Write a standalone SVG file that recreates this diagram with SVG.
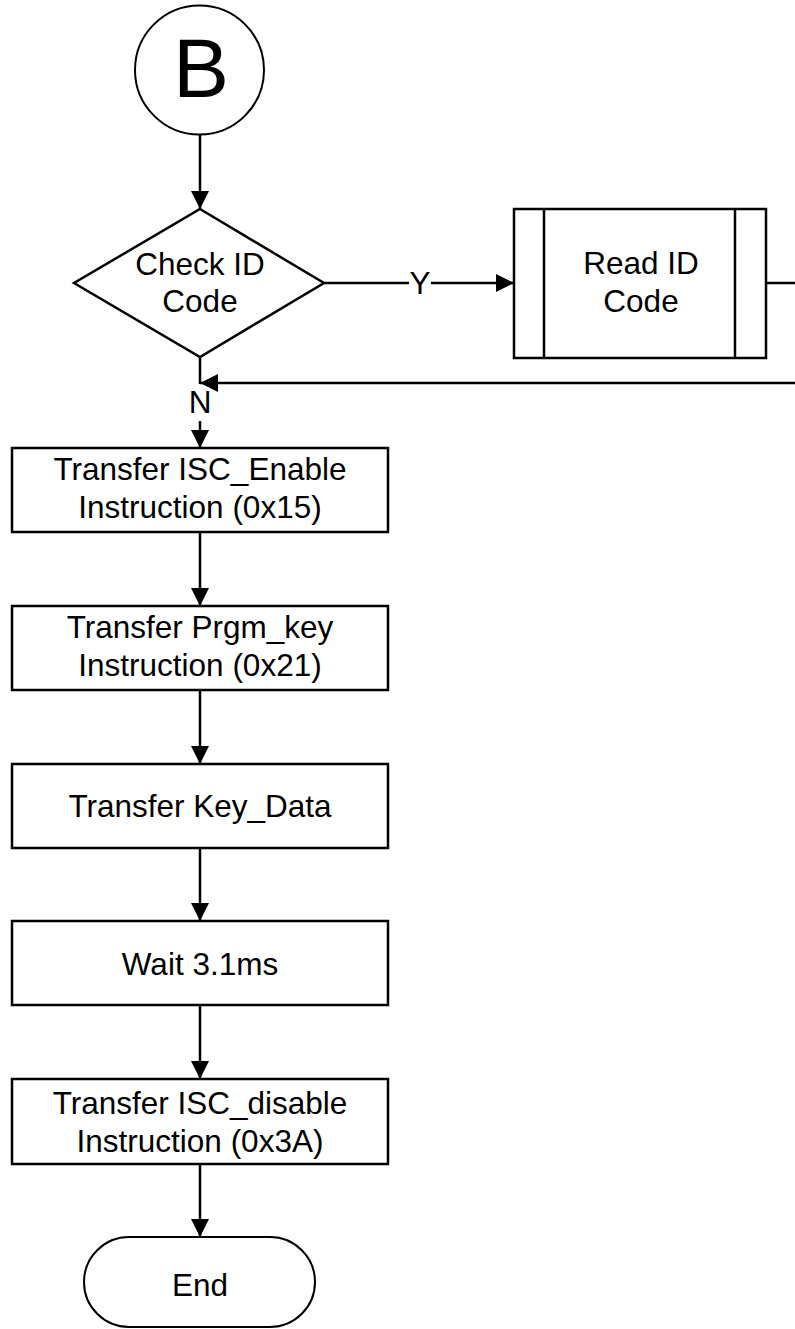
<svg xmlns="http://www.w3.org/2000/svg" width="795" height="1329" viewBox="0 0 795 1329">
<style>
.s{fill:#fff;stroke:#000;stroke-width:2.5}
.t{font-family:"Liberation Sans",Arial,sans-serif;font-size:31.5px;fill:#000;text-anchor:middle}
.c{fill:none;stroke:#000;stroke-width:2.5}
</style>
<defs>
<marker id="ah" viewBox="0 0 18 18" refX="18" refY="9" markerWidth="18" markerHeight="18" markerUnits="userSpaceOnUse" orient="auto">
<path d="M0,0 L18,9 L0,18 Z" fill="#000"/>
</marker>
</defs>
<rect width="795" height="1329" fill="#fff"/>
<g id="connectors">
<line class="c" x1="200" y1="134" x2="200" y2="209" marker-end="url(#ah)"/>
<polyline class="c" points="324,283 409,283"/>
<line class="c" x1="431" y1="283" x2="514" y2="283" marker-end="url(#ah)"/>
<text class="t" x="420" y="294">Y</text>
<line class="c" x1="766" y1="283" x2="795" y2="283"/>
<line class="c" x1="795" y1="383" x2="200" y2="383" marker-end="url(#ah)"/>
<line class="c" x1="200" y1="357" x2="200" y2="384"/>
<text class="t" x="200" y="413">N</text>
<line class="c" x1="200" y1="421" x2="200" y2="448" marker-end="url(#ah)"/>
<line class="c" x1="200" y1="532" x2="200" y2="606" marker-end="url(#ah)"/>
<line class="c" x1="200" y1="690" x2="200" y2="764" marker-end="url(#ah)"/>
<line class="c" x1="200" y1="848" x2="200" y2="921" marker-end="url(#ah)"/>
<line class="c" x1="200" y1="1005" x2="200" y2="1079" marker-end="url(#ah)"/>
<line class="c" x1="200" y1="1164" x2="200" y2="1237" marker-end="url(#ah)"/>
</g>
<g id="start">
<circle cx="199.5" cy="70" r="64.5" fill="#fff" stroke="#000" stroke-width="2"/>
<text class="t" x="201" y="97" style="font-size:84px">B</text>
</g>
<g id="check">
<polygon class="s" points="200,209 324,283 200,357 74,283"/>
<text class="t" x="200" y="275">Check ID</text>
<text class="t" x="200" y="312">Code</text>
</g>
<g id="readid">
<rect class="s" x="514" y="209" width="252" height="149"/>
<line class="c" x1="544" y1="209" x2="544" y2="358"/>
<line class="c" x1="735" y1="209" x2="735" y2="358"/>
<text class="t" x="641" y="274">Read ID</text>
<text class="t" x="641" y="312">Code</text>
</g>
<g id="enable">
<rect class="s" x="12" y="448" width="376" height="84"/>
<text class="t" x="200" y="480">Transfer ISC_Enable</text>
<text class="t" x="200" y="518">Instruction (0x15)</text>
</g>
<g id="prgm">
<rect class="s" x="12" y="606" width="376" height="84"/>
<text class="t" x="200" y="638">Transfer Prgm_key</text>
<text class="t" x="200" y="676">Instruction (0x21)</text>
</g>
<g id="keydata">
<rect class="s" x="12" y="764" width="376" height="84"/>
<text class="t" x="200" y="817">Transfer Key_Data</text>
</g>
<g id="wait">
<rect class="s" x="12" y="921" width="376" height="84"/>
<text class="t" x="200" y="975">Wait 3.1ms</text>
</g>
<g id="disable">
<rect class="s" x="12" y="1079" width="376" height="85"/>
<text class="t" x="200" y="1114">Transfer ISC_disable</text>
<text class="t" x="200" y="1152">Instruction (0x3A)</text>
</g>
<g id="end">
<rect x="84" y="1237" width="231" height="90" rx="45" ry="45" fill="#fff" stroke="#000" stroke-width="2"/>
<text class="t" x="200" y="1296">End</text>
</g>
</svg>
